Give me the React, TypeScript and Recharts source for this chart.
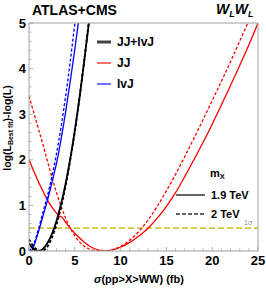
import { LineChart, Line, XAxis, YAxis, ReferenceLine } from 'recharts';

const FONT = '"Liberation Sans", Arial, sans-serif';

// sigma (fb) vs log(L_best) - log(L)
const jj19: [number, number][] = [
  [0, 2.0], [0.5, 1.76], [1, 1.53], [1.5, 1.32], [2, 1.12], [2.5, 0.96], [3, 0.83], [3.2, 0.78],
  [3.6, 0.74], [4, 0.63], [4.5, 0.5], [5, 0.39], [5.5, 0.29], [6, 0.2], [6.5, 0.12], [7, 0.065],
  [7.5, 0.025], [8, 0.004], [8.3, 0], [8.6, 0.004], [9, 0.02], [10, 0.085], [11, 0.19], [12, 0.33],
  [13, 0.5], [14, 0.72], [15, 0.98], [16, 1.28], [17, 1.63], [18, 2.0], [19, 2.38], [20, 2.78],
  [21, 3.2], [22, 3.63], [23, 4.07], [24, 4.52], [25, 5.0],
];
const jj20: [number, number][] = [
  [0, 3.4], [0.5, 3.05], [1, 2.7], [1.5, 2.35], [2, 1.98], [2.5, 1.62], [3, 1.28], [3.5, 0.98],
  [4, 0.72], [4.5, 0.5], [5, 0.33], [5.5, 0.2], [6, 0.11], [6.5, 0.05], [7, 0.018], [7.5, 0.004],
  [8, 0], [8.5, 0.004], [9, 0.025], [10, 0.1], [11, 0.24], [12, 0.43], [13, 0.68], [14, 0.98],
  [15, 1.32], [16, 1.68], [17, 2.07], [18, 2.47], [19, 2.88], [20, 3.3], [21, 3.72], [22, 4.15],
  [23, 4.6], [24, 5.05],
];
const lvj19: [number, number][] = [
  [0, 0.01], [0.25, 0], [0.5, 0.1], [1, 0.4], [1.5, 0.75], [2, 1.1], [2.5, 1.5], [3, 1.92],
  [3.5, 2.45], [4, 3.05], [4.5, 3.72], [5, 4.42], [5.5, 5.18],
];
const lvj20: [number, number][] = [
  [0, 0], [0.5, 0.14], [1, 0.46], [1.5, 0.83], [2, 1.2], [2.5, 1.63], [3, 2.13], [3.5, 2.72],
  [4, 3.4], [4.5, 4.15], [5, 4.98], [5.2, 5.3],
];
const comb19: [number, number][] = [
  [0, 0.17], [0.5, 0.04], [1, 0], [1.5, 0.04], [2, 0.17], [2.5, 0.37], [3, 0.66], [3.5, 1.03],
  [4, 1.48], [4.5, 2.02], [5, 2.64], [5.5, 3.34], [6, 4.12], [6.6, 5.1],
];
const comb20: [number, number][] = [
  [0, 0.26], [0.5, 0.1], [1, 0.015], [1.3, 0], [1.6, 0.015], [2, 0.09], [2.5, 0.29], [3, 0.58],
  [3.5, 0.96], [4, 1.43], [4.5, 1.99], [5, 2.62], [5.5, 3.33], [6, 4.13], [6.6, 5.15],
];

const xTicks = [0, 1, 2, 3, 4, 5, 6, 7, 8, 9, 10, 11, 12, 13, 14, 15, 16, 17, 18, 19, 20, 21, 22, 23, 24, 25];
const xLabels = [0, 5, 10, 15, 20, 25];
const yTicks = [
  0, 0.2, 0.4, 0.6, 0.8, 1, 1.2, 1.4, 1.6, 1.8, 2, 2.2, 2.4, 2.6, 2.8, 3, 3.2, 3.4, 3.6, 3.8, 4,
  4.2, 4.4, 4.6, 4.8, 5,
];
const yLabels = [0, 1, 2, 3, 4, 5];
const oneSigma = 0.5;

const toPts = (d: [number, number][]) => d.map(([x, y]) => ({ x, y }));

const FRAME = '#a0a0a0';
const M = 3; // tickMargin

function isMajor(v: number, list: number[]) {
  return list.some((l) => Math.abs(l - v) < 1e-6);
}

function BottomTick({ x = 0, y = 0, payload }: any) {
  const v = payload.value;
  const major = isMajor(v, xLabels);
  const ay = y - M;
  return (
    <g>
      <line x1={x} x2={x} y1={ay} y2={ay - (major ? 4 : 2.5)} stroke={FRAME} strokeWidth={0.8} />
      {major && (
        <text x={x} y={ay + 14} textAnchor="middle" fontSize={13} fontWeight="bold" fontFamily={FONT} fill="#000">
          {v}
        </text>
      )}
    </g>
  );
}

function TopTick({ x = 0, y = 0, payload }: any) {
  const major = isMajor(payload.value, xLabels);
  const ay = y + M;
  return <line x1={x} x2={x} y1={ay} y2={ay + (major ? 4 : 2.5)} stroke={FRAME} strokeWidth={0.8} />;
}

function LeftTick({ x = 0, y = 0, payload }: any) {
  const v = payload.value;
  const major = isMajor(v, yLabels);
  const ax = x + M;
  return (
    <g>
      <line x1={ax} x2={ax + (major ? 4 : 2.5)} y1={y} y2={y} stroke={FRAME} strokeWidth={0.8} />
      {major && (
        <text x={ax - 3} y={y + 4.5} textAnchor="end" fontSize={13} fontWeight="bold" fontFamily={FONT} fill="#000">
          {v}
        </text>
      )}
    </g>
  );
}

function RightTick({ x = 0, y = 0, payload }: any) {
  const major = isMajor(payload.value, yLabels);
  const ax = x - M;
  return <line x1={ax} x2={ax - (major ? 4 : 2.5)} y1={y} y2={y} stroke={FRAME} strokeWidth={0.8} />;
}

export default function App() {
  const txt = { fontFamily: FONT, fontWeight: 'bold' as const, fill: '#000' };
  return (
    <div style={{ position: 'absolute', left: 0, top: 0, width: 266, height: 288 }}>
      <LineChart width={266} height={288} margin={{ top: 13, right: 0, bottom: 17, left: 4 }}>
        <XAxis
          xAxisId="b"
          type="number"
          dataKey="x"
          domain={[0, 25]}
          ticks={xTicks}
          interval={0}
          allowDataOverflow
          height={20}
          tickSize={0}
          tickMargin={M}
          tickLine={false}
          axisLine={{ stroke: FRAME }}
          tick={<BottomTick />}
        />
        <XAxis
          xAxisId="t"
          orientation="top"
          type="number"
          dataKey="x"
          domain={[0, 25]}
          ticks={xTicks}
          interval={0}
          height={10}
          tickSize={0}
          tickMargin={M}
          tickLine={false}
          axisLine={{ stroke: FRAME }}
          tick={<TopTick />}
        />
        <YAxis
          yAxisId="l"
          type="number"
          domain={[0, 5]}
          ticks={yTicks}
          interval={0}
          allowDataOverflow
          width={25}
          tickSize={0}
          tickMargin={M}
          tickLine={false}
          axisLine={{ stroke: FRAME }}
          tick={<LeftTick />}
        />
        <YAxis
          yAxisId="r"
          orientation="right"
          type="number"
          domain={[0, 5]}
          ticks={yTicks}
          interval={0}
          width={8}
          tickSize={0}
          tickMargin={M}
          tickLine={false}
          axisLine={{ stroke: FRAME }}
          tick={<RightTick />}
        />
        <ReferenceLine xAxisId="b" yAxisId="l" y={oneSigma} stroke="#bcb400" strokeWidth={1.3} strokeDasharray="6 3" />
        <Line xAxisId="b" yAxisId="l" data={toPts(jj20)} dataKey="y" type="monotone" stroke="#ff0000" strokeWidth={1.3} strokeDasharray="3 2" dot={false} isAnimationActive={false} />
        <Line xAxisId="b" yAxisId="l" data={toPts(jj19)} dataKey="y" type="monotone" stroke="#ff0000" strokeWidth={1.3} dot={false} isAnimationActive={false} />
        <Line xAxisId="b" yAxisId="l" data={toPts(lvj20)} dataKey="y" type="monotone" stroke="#0000ff" strokeWidth={1.3} strokeDasharray="3 2" dot={false} isAnimationActive={false} />
        <Line xAxisId="b" yAxisId="l" data={toPts(lvj19)} dataKey="y" type="monotone" stroke="#0000ff" strokeWidth={1.3} dot={false} isAnimationActive={false} />
        <Line xAxisId="b" yAxisId="l" data={toPts(comb20)} dataKey="y" type="monotone" stroke="#000" strokeWidth={1.8} strokeDasharray="3 2" dot={false} isAnimationActive={false} />
        <Line xAxisId="b" yAxisId="l" data={toPts(comb19)} dataKey="y" type="monotone" stroke="#000" strokeWidth={1.8} dot={false} isAnimationActive={false} />
      </LineChart>
      <svg width={266} height={288} style={{ position: 'absolute', left: 0, top: 0, pointerEvents: 'none' }}>
        <text x={32} y={15} fontSize={14} {...txt}>ATLAS+CMS</text>
        <text x={216} y={14} fontSize={14} fontStyle="italic" {...txt}>
          W<tspan fontSize={9} dy={3}>L</tspan><tspan dy={-3}>W</tspan><tspan fontSize={9} dy={3}>L</tspan>
        </text>

        <line x1={97} x2={111} y1={42} y2={42} stroke="#444" strokeWidth={3} />
        <text x={117} y={46} fontSize={12} {...txt}>JJ+lvJ</text>
        <line x1={97} x2={111} y1={63} y2={63} stroke="#ff2020" strokeWidth={1.3} />
        <text x={117} y={67} fontSize={12} {...txt}>JJ</text>
        <line x1={97} x2={111} y1={84} y2={84} stroke="#2020ff" strokeWidth={1.3} />
        <text x={117} y={88} fontSize={12} {...txt}>lvJ</text>

        <text x={210} y={177} fontSize={11} {...txt}>
          m<tspan fontSize={7.5} dy={2}>X</tspan>
        </text>
        <line x1={176} x2={205} y1={195} y2={195} stroke="#333" strokeWidth={1.5} />
        <text x={211} y={199} fontSize={11} {...txt}>1.9 TeV</text>
        <line x1={176} x2={205} y1={214} y2={214} stroke="#333" strokeWidth={1.5} strokeDasharray="4 2" />
        <text x={211} y={218} fontSize={11} {...txt}>2 TeV</text>

        <text x={244} y={225} fontSize={7} fontFamily={FONT} fill="#888">1σ</text>

        <text x={139} y={283} fontSize={11} textAnchor="middle" {...txt}>
          <tspan fontStyle="italic">σ</tspan>(pp&gt;X&gt;WW) (fb)
        </text>
        <text transform="translate(11,128) rotate(-90)" fontSize={10.5} textAnchor="middle" {...txt}>
          log(L<tspan fontSize={7} dy={2}>Best fit</tspan><tspan dy={-2}>)-log(L)</tspan>
        </text>
      </svg>
    </div>
  );
}
